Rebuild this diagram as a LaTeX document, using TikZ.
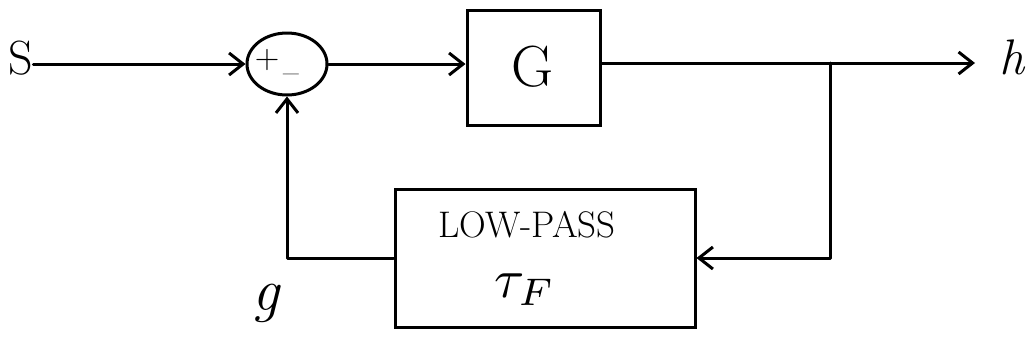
\documentclass[tikz,border=0pt]{standalone}
\usepackage{fontspec}
\usepackage{graphicx}
\usetikzlibrary{arrows.meta,shapes.geometric}
\tikzset{
  wire/.style={line width=3pt, line join=round, line cap=round},
  arr/.style={wire, -{Straight Barb[length=14pt,width=22pt,line width=3pt]}},
  blockbox/.style={draw, line width=3pt, rectangle, inner sep=0pt},
  sumcirc/.style={draw, line width=3pt, ellipse, inner sep=0pt, minimum width=80pt, minimum height=62pt},
  lbl/.style={inner sep=0pt, font=\fontsize{48}{50}\selectfont},
  sign/.style={inner sep=0pt, font=\fontsize{34}{36}\selectfont}
}
\begin{document}
\begin{tikzpicture}[x=1pt,y=-1pt]
\useasboundingbox[fill=white] (0,0) rectangle (1026,346);
% nodes
\node[lbl] (S) at (21,58) {S};
\node[sumcirc] (sum) at (287,64) {};
\node[sign] (plus) at (267,60) {+};
\node[sign] (minus) at (291,79) {--};
\node[blockbox, minimum width=133pt, minimum height=115pt] (G) at (533.5,67.5) {};
\node[lbl, font=\fontsize{58}{60}\selectfont] (Gt) at (533,67) {G};
\node[lbl, font=\itshape\fontsize{50}{52}\selectfont] (h) at (1012,57) {h};
\coordinate (out) at (975,63);
\coordinate (br) at (830,63);
\node[blockbox, minimum width=300pt, minimum height=138pt] (lp) at (545,258) {};
\node[inner sep=0pt, font=\fontsize{37}{39}\selectfont] (lpt) at (527,225) {LOW-PASS};
\node[inner sep=0pt] (tau) at (525,290) {\scalebox{5.5}{$\tau_F$}};
\node[lbl, font=\itshape\fontsize{60}{62}\selectfont] (g) at (266,303) {g};
% connectors
\draw[arr] (S.east |- sum.west) -- (sum.west);
\draw[arr] (sum.east) -- (sum.east -| G.west);
\draw[arr] (G.east |- out) -- (out);
\draw[arr] (br) |- (lp.east);
\draw[arr] (lp.west) -| (sum.south);
\end{tikzpicture}
\end{document}
